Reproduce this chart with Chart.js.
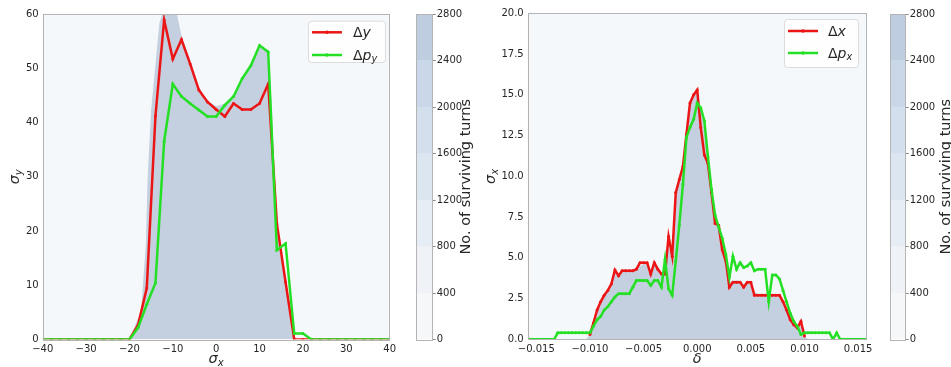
<!DOCTYPE html>
<html>
<head>
<meta charset="utf-8">
<script src="https://cdn.jsdelivr.net/npm/chart.js@4.4.1/dist/chart.umd.min.js"></script>
<style>
  body { margin: 0; background: #fff; }
  #wrap { position: relative; width: 951px; height: 367px; overflow: hidden; }
  canvas { position: absolute; top: 0; }
</style>
</head>
<body>
<div id="wrap">
  <canvas id="leftPlot" width="400" height="367" style="left:0"></canvas>
  <canvas id="leftBar" width="80" height="367" style="left:400px"></canvas>
  <canvas id="rightPlot" width="400" height="367" style="left:480px"></canvas>
  <canvas id="rightBar" width="71" height="367" style="left:880px"></canvas>
</div>
<script>
// ---- left panel: sigma_y vs sigma_x ----
const sigmaX = [-40, -38, -36, -34, -32, -30, -28, -26, -24, -22, -20, -18, -16, -14, -12, -10, -8, -6, -4, -2,
  0, 2, 4, 6, 8, 10, 12, 14, 16, 18, 20, 22, 24, 26, 28, 30, 32, 34, 36, 38, 40];
const dyVals = [0, 0, 0, 0, 0, 0, 0, 0, 0, 0, 0, 2.7, 9.5, 41.2, 58.9, 51.7, 55.3, 50.8, 46.0, 43.8,
  42.4, 41.1, 43.5, 42.4, 42.4, 43.5, 47.1, 21.3, 10.6, 0, 0, 0, 0, 0, 0, 0, 0, 0, 0, 0, 0];
const dpyVals = [0, 0, 0, 0, 0, 0, 0, 0, 0, 0, 0, 2.2, 6.5, 10.4, 36.5, 47.1, 44.8, 43.5, 42.3, 41.1,
  41.1, 43.2, 44.8, 48.1, 50.5, 54.2, 53.0, 16.5, 17.7, 1.1, 1.1, 0, 0, 0, 0, 0, 0, 0, 0, 0, 0];
// outline of the shaded survival region
const leftFillX = [-20, -17.3, -16.2, -15.8, -15, -13.9, -13.1, -12.5, -9, -8, -6, -4, -2, 0, 2, 4, 6, 8, 10, 12,
  12.9, 13.6, 14.4, 15.9, 17.4, 18];
const leftFillY = [0, 5.4, 17.8, 30, 42.3, 51.5, 58.3, 59.8, 59.8, 56, 51.5, 46.5, 44, 43, 43.5, 45, 48.3, 50.8, 54.3, 53,
  42.3, 26.3, 17.8, 11.6, 1.7, 0];
const sxTicks = [-40, -30, -20, -10, 0, 10, 20, 30, 40];
const syTicks = [0, 10, 20, 30, 40, 50, 60];

// ---- right panel: sigma_x vs delta ----
const deltaVals = [
  -0.01567, -0.01533, -0.01500, -0.01467, -0.01433, -0.01400, -0.01367, -0.01333, -0.01300, -0.01267,
  -0.01233, -0.01200, -0.01167, -0.01133, -0.01100, -0.01067, -0.01033, -0.01000, -0.00967, -0.00933,
  -0.00900, -0.00867, -0.00833, -0.00800, -0.00767, -0.00733, -0.00700, -0.00667, -0.00633, -0.00600,
  -0.00567, -0.00533, -0.00500, -0.00467, -0.00433, -0.00400, -0.00367, -0.00333, -0.00300, -0.00267,
  -0.00233, -0.00200, -0.00167, -0.00133, -0.00100, -0.00067, -0.00033, 0,
  0.00033, 0.00067, 0.00100, 0.00133, 0.00167, 0.00200, 0.00233, 0.00267, 0.00300, 0.00333,
  0.00367, 0.00400, 0.00433, 0.00467, 0.00500, 0.00533, 0.00567, 0.00600, 0.00633, 0.00667,
  0.00700, 0.00733, 0.00767, 0.00800, 0.00833, 0.00867, 0.00900, 0.00933, 0.00967, 0.01000,
  0.01033, 0.01067, 0.01100, 0.01133, 0.01167, 0.01200, 0.01233, 0.01267, 0.01300, 0.01333,
  0.01367, 0.01400, 0.01433, 0.01467, 0.01500, 0.01533, 0.01567];
const dxVals = [
  null, null, null, null, null, null, null, null, null, null,
  null, null, null, null, null, null, null, 0.3, 1.0, 1.8,
  2.3, 2.7, 3.0, 3.4, 4.25, 3.9, 4.2, 4.2, 4.2, 4.2,
  4.3, 4.7, 4.7, 4.7, 4.0, 4.7, 4.3, 4.0, 4.0, 6.3,
  5.1, 9.0, 9.8, 10.6, 12.6, 14.5, 15.0, 15.3,
  13.0, 11.3, 10.8, 9.0, 7.1, 7.0, 5.5, 4.8, 3.2, 3.5,
  3.5, 3.5, 3.2, 3.5, 3.5, 2.7, 2.7, 2.7, 2.7, 2.7,
  2.7, 2.7, 2.7, 2.3, 1.8, 1.2, 0.9, 0.7, 1.1, 0.2,
  null, null, null, null, null, null, null, null, null, null,
  null, null, null, null, null, null, null];
const dpxVals = [
  0, 0, 0, 0, 0, 0, 0, 0, 0.4, 0.4,
  0.4, 0.4, 0.4, 0.4, 0.4, 0.4, 0.4, 0.4, 0.8, 1.2,
  1.4, 1.8, 2.0, 2.3, 2.6, 2.8, 2.8, 2.8, 2.8, 3.2,
  3.6, 3.6, 3.6, 3.6, 3.3, 3.6, 3.6, 3.2, 4.9, 3.1,
  2.7, 4.8, 7.0, 9.5, 12.4, 13.0, 13.5, 14.5,
  14.2, 13.4, 11.2, 9.2, 7.6, 6.9, 6.2, 5.2, 3.8, 5.1,
  4.3, 4.7, 4.4, 4.5, 4.7, 4.2, 4.3, 4.3, 4.3, 2.3,
  3.95, 3.95, 3.7, 3.0, 2.3, 1.6, 1.1, 0.8, 0.3, 0.4,
  0.4, 0.4, 0.4, 0.4, 0.4, 0.4, 0.4, 0, 0.4, 0,
  0, 0, 0, 0, 0, 0, 0];
const rightFillY = [
  0, 0, 0, 0, 0, 0, 0, 0, 0, 0,
  0, 0, 0, 0, 0, 0, 0, 0.3, 1.2, 1.8,
  2.3, 2.7, 3.0, 3.4, 4.1, 3.9, 4.1, 4.2, 4.2, 4.2,
  4.3, 4.5, 4.6, 4.6, 4.1, 4.5, 4.3, 4.0, 4.3, 5.6,
  5.2, 8.8, 9.8, 10.8, 12.8, 14.4, 15.0, 15.3,
  14.0, 13.2, 11.0, 9.0, 7.4, 6.9, 5.7, 4.8, 3.5, 3.6,
  3.6, 3.6, 3.4, 3.5, 3.5, 2.9, 2.8, 2.8, 2.8, 2.8,
  2.8, 2.8, 2.7, 2.3, 1.8, 1.2, 0.9, 0.7, 0.9, 0.2,
  0, 0, 0, 0, 0, 0, 0, 0, 0, 0,
  0, 0, 0, 0, 0, 0, 0];
const deltaTicks = [-0.015, -0.010, -0.005, 0, 0.005, 0.010, 0.015];
const sxRightTicks = [0, 2.5, 5, 7.5, 10, 12.5, 15, 17.5, 20];

// ---- colour bars ----
const levelEdges = [0, 400, 800, 1200, 1600, 2000, 2400, 2800];
const levelColors = ['#f6f7f9', '#eff2f6', '#e7edf4', '#dce6f0', '#d3dfed', '#c9d7e9', '#bfcde0'];
const barTicks = [0, 400, 800, 1200, 1600, 2000, 2400, 2800];

const RED = '#ec1515';
const GREEN = '#24e024';
const REGION = '#c4cfdf';
const PLOT_BG = '#f5f8fb';
const SPINE = '#b4b4b4';
const INK = '#262626';

Chart.defaults.font.family = '"DejaVu Sans", sans-serif';
Chart.defaults.font.size = 10;
Chart.defaults.color = INK;

const minus = s => String(s).replace('-', '\u2212');

// small mathtext-ish writer: "_" makes the next char a subscript, letters italic
function mathRuns(str, size) {
  const runs = [];
  for (let i = 0; i < str.length; i++) {
    let ch = str[i], sub = false;
    if (ch === '_') { sub = true; ch = str[++i]; }
    const italic = /[a-zα-ω]/.test(ch);
    runs.push({ ch, sub, font: (italic ? 'italic ' : '') + (sub ? size * 0.7 : size) + 'px "DejaVu Sans"' });
  }
  return runs;
}
function drawMath(ctx, str, x, y, size, align) {
  const runs = mathRuns(str, size);
  let w = 0;
  runs.forEach(r => { ctx.font = r.font; r.w = ctx.measureText(r.ch).width; w += r.w; });
  let cx = align === 'center' ? x - w / 2 : x;
  runs.forEach(r => {
    ctx.font = r.font;
    ctx.fillText(r.ch, cx, r.sub ? y + size * 0.28 : y);
    cx += r.w;
  });
}

function drawLegend(chart, lg) {
  const { ctx, chartArea: a } = chart;
  const x0 = a.right - lg.right - lg.width;
  const y0 = a.top + lg.top;
  ctx.save();
  ctx.beginPath();
  ctx.roundRect(x0 + 0.5, y0 + 0.5, lg.width, lg.height, 3);
  ctx.fillStyle = 'rgba(255,255,255,0.85)';
  ctx.fill();
  ctx.strokeStyle = '#dcdcdc';
  ctx.lineWidth = 1;
  ctx.stroke();
  lg.items.forEach((it, i) => {
    const y = y0 + lg.first + i * lg.step;
    ctx.strokeStyle = it.color;
    ctx.lineWidth = 2.5;
    ctx.beginPath();
    ctx.moveTo(x0 + 4, y);
    ctx.lineTo(x0 + 34, y);
    ctx.stroke();
    ctx.fillStyle = it.color;
    ctx.beginPath();
    ctx.arc(x0 + 19, y, 1.8, 0, Math.PI * 2);
    ctx.fill();
    ctx.fillStyle = INK;
    ctx.textBaseline = 'middle';
    drawMath(ctx, it.text, x0 + lg.textX, y + 1, 14, 'left');
  });
  ctx.restore();
}

const decor = {
  id: 'decor',
  beforeDraw(chart, args, o) {
    if (!o.bg) return;
    const { ctx, chartArea: a } = chart;
    ctx.save();
    ctx.fillStyle = o.bg;
    ctx.fillRect(a.left, a.top, a.width, a.height);
    ctx.restore();
  },
  // keep fills and lines inside the axes box
  beforeDatasetsDraw(chart) {
    const { ctx, chartArea: a } = chart;
    ctx.save();
    ctx.beginPath();
    ctx.rect(a.left, a.top, a.width, a.height);
    ctx.clip();
  },
  afterDatasetsDraw(chart) {
    chart.ctx.restore();
  },
  afterDraw(chart, args, o) {
    const { ctx, chartArea: a } = chart;
    ctx.save();
    // nothing of the plot should show above the axes box
    ctx.clearRect(a.left + 1, 0, a.width - 1, Math.floor(a.top));
    ctx.strokeStyle = SPINE;
    ctx.lineWidth = 1;
    ctx.strokeRect(Math.round(a.left) + 0.5, Math.round(a.top) + 0.5,
      Math.round(a.width) - 1, Math.round(a.height));
    ctx.fillStyle = INK;
    ctx.textBaseline = 'middle';
    if (o.xTitle) drawMath(ctx, o.xTitle, (a.left + a.right) / 2, a.bottom + 20, 14.5, 'center');
    if (o.yTitle) {
      ctx.save();
      ctx.translate(o.yTitleX, (a.top + a.bottom) / 2);
      ctx.rotate(-Math.PI / 2);
      drawMath(ctx, o.yTitle, 0, 0, 14.5, 'center');
      ctx.restore();
    }
    if (o.legend) drawLegend(chart, o.legend);
    ctx.restore();
  }
};

function lineSet(label, xs, ys, color, order) {
  return {
    label: label,
    data: xs.map((x, i) => ({ x: x, y: ys[i] })),
    borderColor: color,
    backgroundColor: color,
    borderWidth: 2.5,
    pointRadius: 1.5,
    pointBorderWidth: 0,
    pointHoverRadius: 0,
    tension: 0,
    spanGaps: false,
    clip: 0,
    order: order
  };
}
function regionSet(xs, ys) {
  return {
    label: 'region',
    data: xs.map((x, i) => ({ x: x, y: ys[i] })),
    borderWidth: 0,
    borderColor: 'rgba(0,0,0,0)',
    pointRadius: 0,
    backgroundColor: REGION,
    fill: 'origin',
    tension: 0,
    clip: 0,
    order: 5
  };
}

function axis(min, max, tickList, fmt, extra) {
  return Object.assign({
    type: 'linear',
    min: min,
    max: max,
    afterBuildTicks: s => { s.ticks = tickList.map(v => ({ value: v })); },
    grid: { display: false, drawTicks: false },
    border: { display: false },
    ticks: { autoSkip: false, maxRotation: 0, padding: 4, callback: fmt, color: INK, font: { size: 10 } }
  }, extra);
}

// left panel
new Chart(document.getElementById('leftPlot'), {
  type: 'line',
  data: {
    datasets: [
      lineSet('Δy', sigmaX, dyVals, RED, 1),
      lineSet('Δp_y', sigmaX, dpyVals, GREEN, 0),
      regionSet(leftFillX, leftFillY)
    ]
  },
  options: {
    responsive: false,
    animation: false,
    devicePixelRatio: 1,
    layout: { padding: { left: 0, right: 8.3, top: 14, bottom: 0 } },
    scales: {
      x: axis(-40, 40, sxTicks, v => minus(v), { afterFit: s => { s.height = 27.5; } }),
      y: axis(0, 60, syTicks, v => String(v), { afterFit: s => { s.width = 42.7; } })
    },
    plugins: {
      legend: { display: false },
      tooltip: { enabled: false },
      decor: {
        bg: PLOT_BG,
        xTitle: 'σ_x',
        yTitle: 'σ_y',
        yTitleX: 15,
        legend: {
          right: 4.7, top: 6.7, width: 77, height: 41.3, first: 11.6, step: 22.7, textX: 45,
          items: [{ text: 'Δy', color: RED }, { text: 'Δp_y', color: GREEN }]
        }
      }
    }
  },
  plugins: [decor]
});

// right panel
new Chart(document.getElementById('rightPlot'), {
  type: 'line',
  data: {
    datasets: [
      lineSet('Δx', deltaVals, dxVals, RED, 1),
      lineSet('Δp_x', deltaVals, dpxVals, GREEN, 0),
      regionSet(deltaVals, rightFillY)
    ]
  },
  options: {
    responsive: false,
    animation: false,
    devicePixelRatio: 1,
    layout: { padding: { left: 0, right: 13.3, top: 13.3, bottom: 0 } },
    scales: {
      x: axis(-0.0158, 0.0158, deltaTicks, v => minus(Number(v).toFixed(3)), { afterFit: s => { s.height = 27.7; } }),
      y: axis(0, 20, sxRightTicks, v => Number(v).toFixed(1), { afterFit: s => { s.width = 47.7; } })
    },
    plugins: {
      legend: { display: false },
      tooltip: { enabled: false },
      decor: {
        bg: PLOT_BG,
        xTitle: 'δ',
        yTitle: 'σ_x',
        yTitleX: 11,
        legend: {
          right: 8.7, top: 5.7, width: 74, height: 48, first: 12, step: 22, textX: 44,
          items: [{ text: 'Δx', color: RED }, { text: 'Δp_x', color: GREEN }]
        }
      }
    }
  },
  plugins: [decor]
});

// colour bar: seven floating bars stacked on one category
const barTitle = {
  id: 'barTitle',
  afterDraw(chart, args, o) {
    const { ctx, chartArea: a } = chart;
    ctx.save();
    ctx.strokeStyle = SPINE;
    ctx.lineWidth = 1;
    ctx.strokeRect(Math.round(a.left) + 0.5, Math.round(a.top) + 0.5,
      Math.round(a.width) - 1, Math.round(a.height));
    ctx.translate(o.x, (a.top + a.bottom) / 2);
    ctx.rotate(-Math.PI / 2);
    ctx.fillStyle = INK;
    ctx.font = '14.5px "DejaVu Sans"';
    ctx.textAlign = 'center';
    ctx.textBaseline = 'middle';
    ctx.fillText(o.text, 0, 0);
    ctx.restore();
  }
};

function colorBar(id, padLeft, axisW, titleX) {
  return new Chart(document.getElementById(id), {
    type: 'bar',
    data: {
      labels: ['turns'],
      datasets: levelColors.map((c, i) => ({
        label: levelEdges[i] + '–' + levelEdges[i + 1],
        data: [[levelEdges[i], levelEdges[i + 1]]],
        backgroundColor: c,
        borderWidth: 0,
        grouped: false,
        barPercentage: 1,
        categoryPercentage: 1
      }))
    },
    options: {
      responsive: false,
      animation: false,
      devicePixelRatio: 1,
      layout: { padding: { left: padLeft, right: 0, top: 14, bottom: 27.5 } },
      scales: {
        x: { display: false },
        y: {
          position: 'right',
          min: 0,
          max: 2800,
          afterBuildTicks: s => { s.ticks = barTicks.map(v => ({ value: v })); },
          afterFit: s => { s.width = axisW; },
          grid: { display: true, drawOnChartArea: false, drawTicks: true, tickLength: 3, color: '#8a8a8a' },
          border: { display: false },
          ticks: { padding: 1, color: INK, font: { size: 10 }, callback: v => String(v) }
        }
      },
      plugins: {
        legend: { display: false },
        tooltip: { enabled: false },
        barTitle: { text: 'No. of surviving turns', x: titleX }
      }
    },
    plugins: [barTitle]
  });
}

colorBar('leftBar', 16, 47.3, 66);
colorBar('rightBar', 10, 45.3, 66.5);
</script>
</body>
</html>
